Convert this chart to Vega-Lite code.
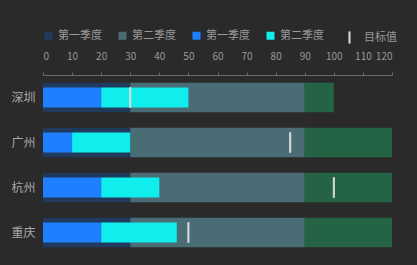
{
  "$schema": "https://vega.github.io/schema/vega-lite/v6.json",
  "width": 349,
  "height": 180,
  "autosize": "none",
  "padding": {"left": 43, "top": 75, "right": 25, "bottom": 10},
  "background": "#2a2a2a",
  "config": {
    "view": {"stroke": null},
    "font": "Noto Sans CJK SC"
  },
  "data": {
    "values": [
      {"city": "深圳", "series": "bg1", "kind": "bg", "start": 0, "end": 30},
      {"city": "深圳", "series": "bg2", "kind": "bg", "start": 30, "end": 90},
      {"city": "深圳", "series": "bg3", "kind": "bg", "start": 90, "end": 100},
      {"city": "广州", "series": "bg1", "kind": "bg", "start": 0, "end": 30},
      {"city": "广州", "series": "bg2", "kind": "bg", "start": 30, "end": 90},
      {"city": "广州", "series": "bg3", "kind": "bg", "start": 90, "end": 120},
      {"city": "杭州", "series": "bg1", "kind": "bg", "start": 0, "end": 30},
      {"city": "杭州", "series": "bg2", "kind": "bg", "start": 30, "end": 90},
      {"city": "杭州", "series": "bg3", "kind": "bg", "start": 90, "end": 120},
      {"city": "重庆", "series": "bg1", "kind": "bg", "start": 0, "end": 30},
      {"city": "重庆", "series": "bg2", "kind": "bg", "start": 30, "end": 90},
      {"city": "重庆", "series": "bg3", "kind": "bg", "start": 90, "end": 120},
      {"city": "深圳", "series": "fg1", "kind": "fg", "start": 0, "end": 20},
      {"city": "深圳", "series": "fg2", "kind": "fg", "start": 20, "end": 50},
      {"city": "广州", "series": "fg1", "kind": "fg", "start": 0, "end": 10},
      {"city": "广州", "series": "fg2", "kind": "fg", "start": 10, "end": 30},
      {"city": "杭州", "series": "fg1", "kind": "fg", "start": 0, "end": 20},
      {"city": "杭州", "series": "fg2", "kind": "fg", "start": 20, "end": 40},
      {"city": "重庆", "series": "fg1", "kind": "fg", "start": 0, "end": 20},
      {"city": "重庆", "series": "fg2", "kind": "fg", "start": 20, "end": 46},
      {"city": "深圳", "series": "目标值", "kind": "target", "start": 30},
      {"city": "广州", "series": "目标值", "kind": "target", "start": 85},
      {"city": "杭州", "series": "目标值", "kind": "target", "start": 100},
      {"city": "重庆", "series": "目标值", "kind": "target", "start": 50}
    ]
  },
  "encoding": {
    "y": {
      "field": "city",
      "type": "nominal",
      "sort": ["深圳", "广州", "杭州", "重庆"],
      "scale": {"paddingInner": 0.35, "paddingOuter": 0.175},
      "axis": {
        "title": null,
        "domain": false,
        "ticks": false,
        "labelColor": "#a8a8a8",
        "labelFontSize": 12,
        "labelPadding": 8
      }
    },
    "x": {
      "field": "start",
      "type": "quantitative",
      "scale": {"domain": [0, 120]},
      "axis": {
        "orient": "top",
        "title": null,
        "values": [0, 10, 20, 30, 40, 50, 60, 70, 80, 90, 100, 110, 120],
        "grid": false,
        "domainColor": "#6a6a6a",
        "tickColor": "#6a6a6a",
        "tickSize": 3,
        "labelColor": "#999999",
        "labelFontSize": 10,
        "labelPadding": 11
      }
    }
  },
  "layer": [
    {
      "transform": [{"filter": "datum.kind != 'target'"}],
      "mark": {"type": "bar", "opacity": 1},
      "encoding": {
        "x2": {"field": "end"},
        "size": {
          "field": "kind",
          "type": "nominal",
          "scale": {"domain": ["bg", "fg"], "range": [29.5, 20]},
          "legend": null
        },
        "order": {"field": "kind", "sort": "ascending"},
        "color": {
          "field": "series",
          "type": "nominal",
          "scale": {
            "domain": ["bg1", "bg2", "fg1", "fg2", "bg3"],
            "range": ["#1f3a5c", "#4a6c75", "#1e80ff", "#10eded", "#246445"]
          },
          "legend": {
            "title": null,
            "orient": "top",
            "direction": "horizontal",
            "values": ["bg1", "bg2", "fg1", "fg2"],
            "labelExpr": "datum.value == 'bg1' || datum.value == 'fg1' ? '第一季度' : '第二季度'",
            "labelColor": "#999999",
            "labelFontSize": 11,
            "symbolSize": 64,
            "symbolType": "square",
            "columnPadding": 15,
            "offset": 3
          }
        }
      }
    },
    {
      "transform": [{"filter": "datum.kind == 'target'"}],
      "mark": {"type": "tick", "size": 20, "thickness": 1, "color": "#dddddd", "strokeWidth": 1, "opacity": 1},
      "encoding": {
        "stroke": {
          "field": "series",
          "type": "nominal",
          "scale": {"range": ["#dddddd"]},
          "legend": {
            "title": null,
            "orient": "top",
            "direction": "horizontal",
            "symbolType": "M0,-1L0,1",
            "symbolSize": 150,
            "symbolStrokeWidth": 2,
            "symbolStrokeColor": "#dddddd",
            "symbolOffset": 10,
            "labelColor": "#999999",
            "labelFontSize": 11,
            "labelOffset": 7,
            "offset": 3
          }
        }
      }
    }
  ]
}
